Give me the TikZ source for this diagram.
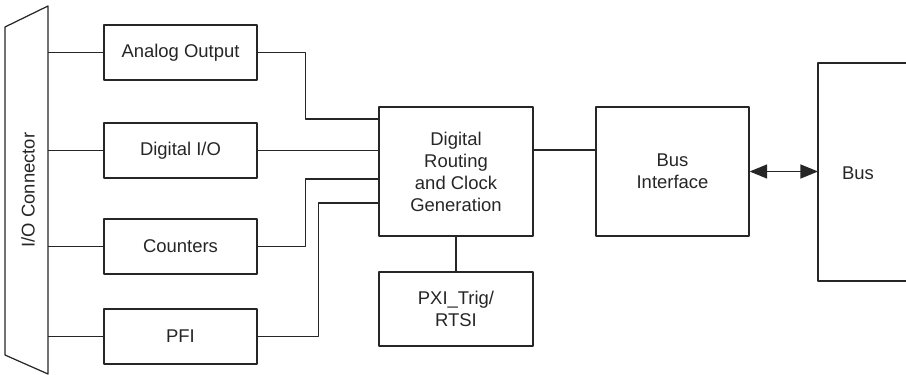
\documentclass[tikz,border=0pt]{standalone}
\usepackage{fontspec}
\setmainfont{Liberation Sans}
\usetikzlibrary{arrows.meta}

\begin{document}
\begin{tikzpicture}[
    x = 0.02cm, y = -0.02cm,
    line join=round,
    wire/.style = {line width=0.7pt, black!85},
    blockbox/.style = {draw, line width=0.7pt, black!85, text=black!85, align=center,
        font=\fontsize{10.5}{12.5}\selectfont, inner sep=0pt},
    smallbox/.style = {blockbox, minimum width=3.06cm, minimum height=1.1cm},
    bigtip/.style = {{Triangle[length=10pt, width=8pt]}-{Triangle[length=10pt, width=8pt]}}
]

\useasboundingbox (0, 0) rectangle (906, 375);

% I/O connector
\draw[wire] (5, 27) -- (48, 6) -- (48, 374) -- (5, 355) -- cycle;
\node[rotate=90, text=black!85, font=\fontsize{10.5}{12.5}\selectfont] (ioc) at (28, 190) {I/O Connector};
\coordinate (io) at (48, 190);

\node[smallbox] (ao)  at (180.5, 52.5)  {Analog Output};
\node[smallbox] (dio) at (180.5, 150.5) {Digital I/O};
\node[smallbox] (ctr) at (180.5, 246.5) {Counters};
\node[smallbox] (pfi) at (180.5, 336.5) {PFI};

\node[blockbox, minimum width=3.08cm, minimum height=2.58cm] (drc) at (456, 171.5)
    {Digital\\Routing\\and Clock\\Generation};
\node[blockbox, minimum width=3.08cm, minimum height=1.48cm] (pxi) at (456, 309)
    {PXI\_Trig/\\RTSI};
\node[blockbox, minimum width=3.06cm, minimum height=2.58cm] (bif) at (672.5, 171.5)
    {Bus\\Interface};

% bus (runs off the right edge)
\draw[wire] (906, 63) -- (818, 63) -- (818, 281) -- (906, 281);
\coordinate (busl) at (818, 171.5);
\node[text=black!85, font=\fontsize{10.5}{12.5}\selectfont] (bus) at (858, 173) {Bus};

\coordinate (d1) at (379, 119);
\coordinate (d3) at (379, 179);
\coordinate (d4) at (379, 203);
\coordinate (d5) at (533, 150);

\draw[wire] (ao.west) -- (ao.west -| io);
\draw[wire] (dio.west) -- (dio.west -| io);
\draw[wire] (ctr.west) -- (ctr.west -| io);
\draw[wire] (pfi.west) -- (pfi.west -| io);

\draw[wire] (ao.east) -- ++(48, 0) |- (d1);
\draw[wire] (dio.east) -- (dio.east -| drc.west);
\draw[wire] (ctr.east) -- ++(48, 0) |- (d3);
\draw[wire] (pfi.east) -- ++(61, 0) |- (d4);

\draw[wire] (d5) -- (d5 -| bif.west);
\draw[wire] (drc.south) -- (pxi.north);
\draw[wire, bigtip] (bif.east) -- (busl);

\end{tikzpicture}
\end{document}
